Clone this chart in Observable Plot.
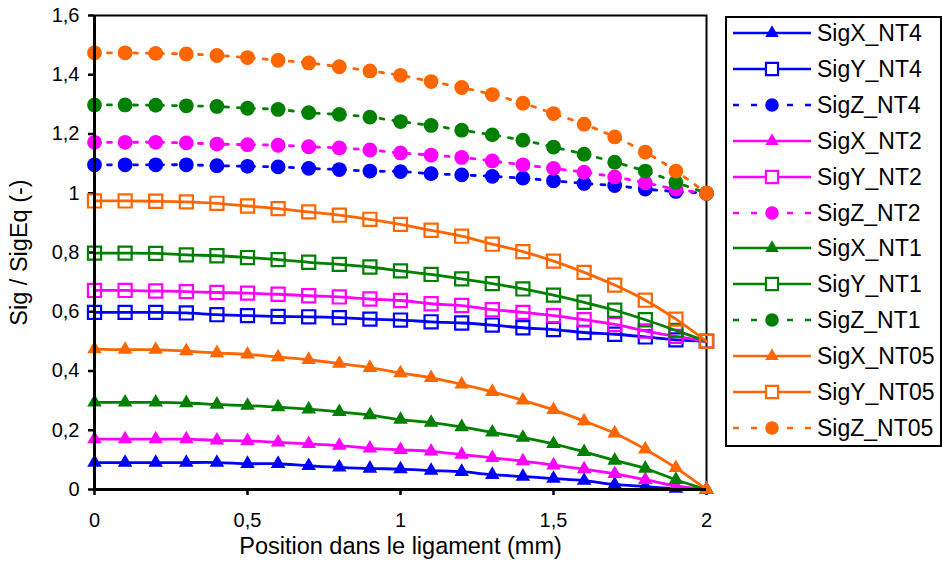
<!DOCTYPE html>
<html>
<head>
<meta charset="utf-8">
<script src="https://cdn.jsdelivr.net/npm/d3@7"></script>
<script src="https://cdn.jsdelivr.net/npm/@observablehq/plot@0.6"></script>
<style>
  html, body { margin: 0; padding: 0; background: #fff; }
  #wrap { position: relative; width: 942px; height: 562px; font-family: "Liberation Sans", Arial, sans-serif; }
  #legend { position: absolute; left: 725px; top: 16px; width: 217px; height: 431px; box-sizing: border-box; border: 2px solid #000; background: #fff; }
  .row { position: absolute; left: 6px; height: 36px; display: flex; align-items: center; }
  .row span { font-size: 23px; color: #000; margin-left: 4px; line-height: 36px; white-space: nowrap; }
</style>
</head>
<body>
<div id="wrap"><div id="chart"></div><div id="legend"></div></div>
<script>
const xs = [0, 0.1, 0.2, 0.3, 0.4, 0.5, 0.6, 0.7, 0.8, 0.9, 1.0, 1.1, 1.2, 1.3, 1.4, 1.5, 1.6, 1.7, 1.8, 1.9, 2.0];

const sigX_NT4  = [0.091,0.091,0.091,0.091,0.091,0.087,0.087,0.080,0.075,0.071,0.069,0.064,0.060,0.050,0.044,0.037,0.030,0.017,0.010,0.003,0];
const sigY_NT4  = [0.598,0.598,0.598,0.596,0.590,0.587,0.584,0.583,0.580,0.575,0.572,0.566,0.562,0.555,0.546,0.540,0.530,0.524,0.515,0.505,0.5];
const sigZ_NT4  = [1.096,1.096,1.096,1.096,1.093,1.091,1.089,1.084,1.080,1.075,1.073,1.066,1.062,1.057,1.051,1.042,1.033,1.026,1.014,1.006,1.0];
const sigX_NT2  = [0.170,0.170,0.170,0.170,0.166,0.164,0.159,0.154,0.148,0.139,0.134,0.129,0.118,0.107,0.096,0.082,0.069,0.053,0.033,0.012,0];
const sigY_NT2  = [0.672,0.672,0.670,0.668,0.665,0.663,0.659,0.654,0.650,0.643,0.638,0.627,0.621,0.607,0.598,0.587,0.573,0.557,0.535,0.517,0.5];
const sigZ_NT2  = [1.172,1.172,1.172,1.170,1.166,1.164,1.162,1.157,1.153,1.146,1.136,1.129,1.121,1.109,1.096,1.084,1.071,1.055,1.035,1.014,1.0];
const sigX_NT1  = [0.294,0.294,0.294,0.292,0.287,0.283,0.278,0.271,0.262,0.251,0.236,0.226,0.211,0.193,0.175,0.154,0.127,0.098,0.071,0.033,0];
const sigY_NT1  = [0.798,0.798,0.797,0.792,0.789,0.783,0.776,0.767,0.760,0.751,0.738,0.726,0.711,0.695,0.677,0.656,0.632,0.605,0.573,0.537,0.5];
const sigZ_NT1  = [1.298,1.298,1.297,1.295,1.293,1.287,1.283,1.272,1.266,1.257,1.242,1.229,1.213,1.197,1.179,1.156,1.132,1.105,1.075,1.037,1.0];
const sigX_NT05 = [0.474,0.472,0.472,0.467,0.461,0.456,0.447,0.438,0.425,0.411,0.393,0.377,0.355,0.330,0.301,0.269,0.231,0.190,0.136,0.073,0];
const sigY_NT05 = [0.974,0.974,0.973,0.971,0.966,0.957,0.948,0.937,0.926,0.912,0.895,0.875,0.855,0.828,0.803,0.771,0.733,0.690,0.639,0.575,0.5];
const sigZ_NT05 = [1.474,1.474,1.472,1.470,1.465,1.458,1.449,1.440,1.427,1.413,1.398,1.377,1.357,1.333,1.304,1.269,1.233,1.190,1.139,1.075,1.0];

const seriesNames = ["SigX_NT4","SigY_NT4","SigZ_NT4","SigX_NT2","SigY_NT2","SigZ_NT2","SigX_NT1","SigY_NT1","SigZ_NT1","SigX_NT05","SigY_NT05","SigZ_NT05"];
const seriesValues = [sigX_NT4,sigY_NT4,sigZ_NT4,sigX_NT2,sigY_NT2,sigZ_NT2,sigX_NT1,sigY_NT1,sigZ_NT1,sigX_NT05,sigY_NT05,sigZ_NT05];
const groupColors = {NT4: "#0000FF", NT2: "#FF00FF", NT1: "#008000", NT05: "#FF6600"};
const xTicks = [0, 0.5, 1, 1.5, 2];
const yTicks = [0, 0.2, 0.4, 0.6, 0.8, 1.0, 1.2, 1.4, 1.6];

const fmt = d => String(d).replace(".", ",");

function styleOf(name) {
  const comp = name.slice(3, 4);
  const grp = name.split("_")[1];
  const color = groupColors[grp];
  if (comp === "X") return {color, symbol: "triangle", r: 5.4, fill: color, stroke: "none", dash: null, sw: 0};
  if (comp === "Y") return {color, symbol: "square", r: 7.4, fill: "none", stroke: color, dash: null, sw: 2.2};
  return {color, symbol: "circle", r: 7.4, fill: color, stroke: "none", dash: "4,9", sw: 0};
}

const marks = [];
seriesNames.forEach((name, k) => {
  const st = styleOf(name);
  const rows = xs.map((x, i) => ({x, y: seriesValues[k][i]}));
  marks.push(Plot.line(rows, {x: "x", y: "y", stroke: st.color, strokeWidth: 2.8, curve: "catmull-rom",
    strokeDasharray: st.dash ?? undefined}));
  marks.push(Plot.dot(rows, {x: "x", y: "y", symbol: st.symbol, r: st.r, fill: st.fill, stroke: st.stroke, strokeWidth: st.sw}));
});

const chart = Plot.plot({
  width: 942,
  height: 562,
  marginLeft: 94,
  marginRight: 236,
  marginTop: 15,
  marginBottom: 73,
  style: {fontFamily: '"Liberation Sans", Arial, sans-serif', fontSize: "20px", color: "#000", background: "#fff"},
  x: {domain: [0, 2]},
  y: {domain: [0, 1.6]},
  marks: [
    Plot.frame({stroke: "#000", strokeWidth: 2}),
    Plot.axisX({ticks: xTicks, tickFormat: fmt, tickSize: 6, tickPadding: 17, strokeWidth: 2.5,
      label: "Position dans le ligament (mm)", labelAnchor: "center", labelArrow: "none", labelOffset: 64}),
    Plot.axisY({ticks: yTicks, tickFormat: fmt, tickSize: 6, tickPadding: 9, strokeWidth: 2.5,
      label: "Sig / SigEq (-)", labelAnchor: "center", labelArrow: "none", labelOffset: 84}),
    ...marks,
    Plot.ruleY([0], {stroke: "#000", strokeWidth: 3}),
    Plot.ruleX([0], {stroke: "#000", strokeWidth: 3})
  ]
});
document.getElementById("chart").appendChild(chart);
chart.querySelectorAll('g[aria-label="x-axis label"], g[aria-label="y-axis label"]').forEach(g => g.setAttribute("font-size", "23.5px"));

// Legend
const legend = d3.select("#legend");
seriesNames.forEach((name, i) => {
  const st = styleOf(name);
  const row = legend.append("div").attr("class", "row").style("top", (-3 + i * 35.9) + "px");
  const svg = row.append("svg").attr("width", 80).attr("height", 20);
  svg.append("line").attr("x1", 0).attr("x2", 78).attr("y1", 10).attr("y2", 10)
    .attr("stroke", st.color).attr("stroke-width", 2.6)
    .attr("stroke-dasharray", st.dash ? "6,12" : null);
  const sym = st.symbol === "triangle" ? d3.symbolTriangle : st.symbol === "square" ? d3.symbolSquare : d3.symbolCircle;
  const legendR = st.symbol === "circle" ? 6.8 : st.symbol === "square" ? 6.8 : 5.0;
  svg.append("path").attr("transform", "translate(39,10)")
    .attr("d", d3.symbol(sym, Math.PI * legendR * legendR)())
    .attr("fill", st.fill === "none" ? "#fff" : st.fill).attr("stroke", st.stroke).attr("stroke-width", st.sw);
  row.append("span").text(name);
});
</script>
</body>
</html>
